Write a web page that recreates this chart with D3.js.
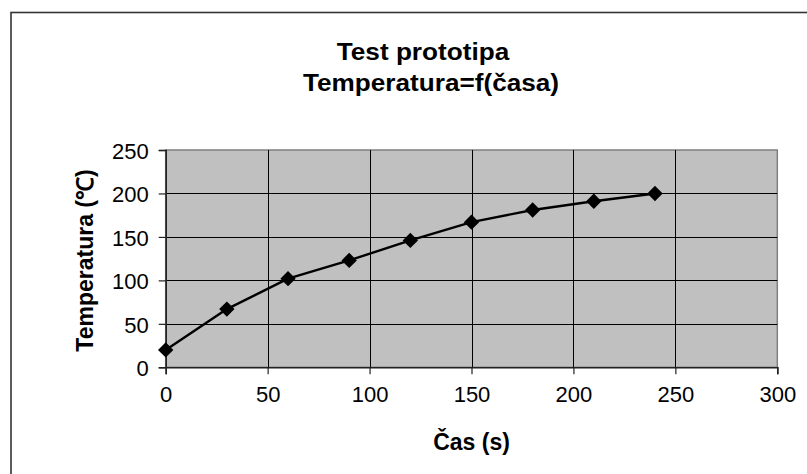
<!DOCTYPE html>
<html>
<head>
<meta charset="utf-8">
<script src="https://cdn.jsdelivr.net/npm/d3@7"></script>
<style>
  html, body { margin: 0; padding: 0; background: #fff; }
  svg { display: block; }
  text { font-family: "Liberation Sans", Arial, sans-serif; fill: #000; }
</style>
</head>
<body>
<svg id="chart" width="807" height="474"></svg>
<script>
// Measured temperature of the prototype over time
const timeSeconds = [0, 30, 60, 90, 120, 150, 180, 210, 240];
const temperatureC = [20, 67, 102, 123, 146, 167, 181, 191, 200];

const xTickValues = [0, 50, 100, 150, 200, 250, 300];
const yTickValues = [0, 50, 100, 150, 200, 250];

const titleLines = ["Test prototipa", "Temperatura=f(časa)"];
const xAxisTitle = "Čas (s)";
const yAxisTitle = "Temperatura (℃)";

const svg = d3.select("#chart");

// Outer chart frame
svg.append("rect")
  .attr("x", 11).attr("y", 12.5)
  .attr("width", 830).attr("height", 500)
  .attr("fill", "#fff")
  .attr("stroke", "#333").attr("stroke-width", 1.6);

const plot = { left: 165.7, right: 777.3, top: 150, bottom: 367.3 };

const x = d3.scaleLinear().domain([0, 300]).range([plot.left, plot.right]);
const y = d3.scaleLinear().domain([0, 250]).range([plot.bottom, plot.top]);

// Plot area background
svg.append("rect")
  .attr("x", plot.left).attr("y", plot.top)
  .attr("width", plot.right - plot.left).attr("height", plot.bottom - plot.top)
  .attr("fill", "#c0c0c0")
  .attr("stroke", "#808080").attr("stroke-width", 1.5);

// Gridlines
svg.append("g")
  .selectAll("line")
  .data(yTickValues.filter(v => v > 0 && v < 250))
  .join("line")
  .attr("x1", plot.left).attr("x2", plot.right)
  .attr("y1", d => Math.round(y(d)) + 0.5).attr("y2", d => Math.round(y(d)) + 0.5)
  .attr("stroke", "#000").attr("stroke-width", 1);

svg.append("g")
  .selectAll("line")
  .data(xTickValues.filter(v => v > 0 && v < 300))
  .join("line")
  .attr("y1", plot.top).attr("y2", plot.bottom)
  .attr("x1", d => Math.round(x(d)) + 0.5).attr("x2", d => Math.round(x(d)) + 0.5)
  .attr("stroke", "#000").attr("stroke-width", 1);

// Axes
const xAxis = d3.axisBottom(x).tickValues(xTickValues).tickSize(7).tickPadding(12);
const yAxis = d3.axisLeft(y).tickValues(yTickValues).tickSize(7).tickPadding(10);

const gx = svg.append("g").attr("transform", `translate(0,${plot.bottom})`).call(xAxis);
const gy = svg.append("g").attr("transform", `translate(${plot.left},0)`).call(yAxis);

[gx, gy].forEach(g => {
  g.select(".domain").attr("stroke", "#222").attr("stroke-width", 1.6);
  g.selectAll(".tick line").attr("stroke", "#222").attr("stroke-width", 1.2);
  g.selectAll(".tick text")
    .attr("font-family", "'Liberation Sans', Arial, sans-serif")
    .attr("font-size", 22)
    .attr("fill", "#000");
});
gy.selectAll(".tick text").attr("dy", "0.38em");

// Data line: straight segments between measurements
const line = d3.line()
  .x((d, i) => x(timeSeconds[i]))
  .y(d => y(d));

svg.append("path")
  .datum(temperatureC)
  .attr("d", line)
  .attr("fill", "none")
  .attr("stroke", "#000")
  .attr("stroke-width", 2.4)
  .attr("stroke-linejoin", "round");

// Diamond markers
const diamond = d3.symbol().type(d3.symbolDiamond2).size(150);
svg.append("g")
  .selectAll("path")
  .data(temperatureC)
  .join("path")
  .attr("d", diamond)
  .attr("transform", (d, i) => `translate(${x(timeSeconds[i])},${y(d)})`)
  .attr("fill", "#000");

// Titles
const titleX = [423, 431];
const titleY = [60, 91];
titleLines.forEach((t, i) => {
  svg.append("text")
    .attr("transform", `translate(${titleX[i]},${titleY[i]}) scale(1.09,1)`)
    .attr("text-anchor", "middle")
    .attr("font-size", 24)
    .attr("font-weight", "bold")
    .text(t);
});

svg.append("text")
  .attr("x", (plot.left + plot.right) / 2)
  .attr("y", 450)
  .attr("text-anchor", "middle")
  .attr("font-size", 23)
  .attr("font-weight", "bold")
  .text(xAxisTitle);

svg.append("text")
  .attr("transform", `translate(93,260.5) rotate(-90)`)
  .attr("text-anchor", "middle")
  .attr("font-size", 23)
  .attr("font-weight", "bold")
  .text(yAxisTitle);
</script>
</body>
</html>
